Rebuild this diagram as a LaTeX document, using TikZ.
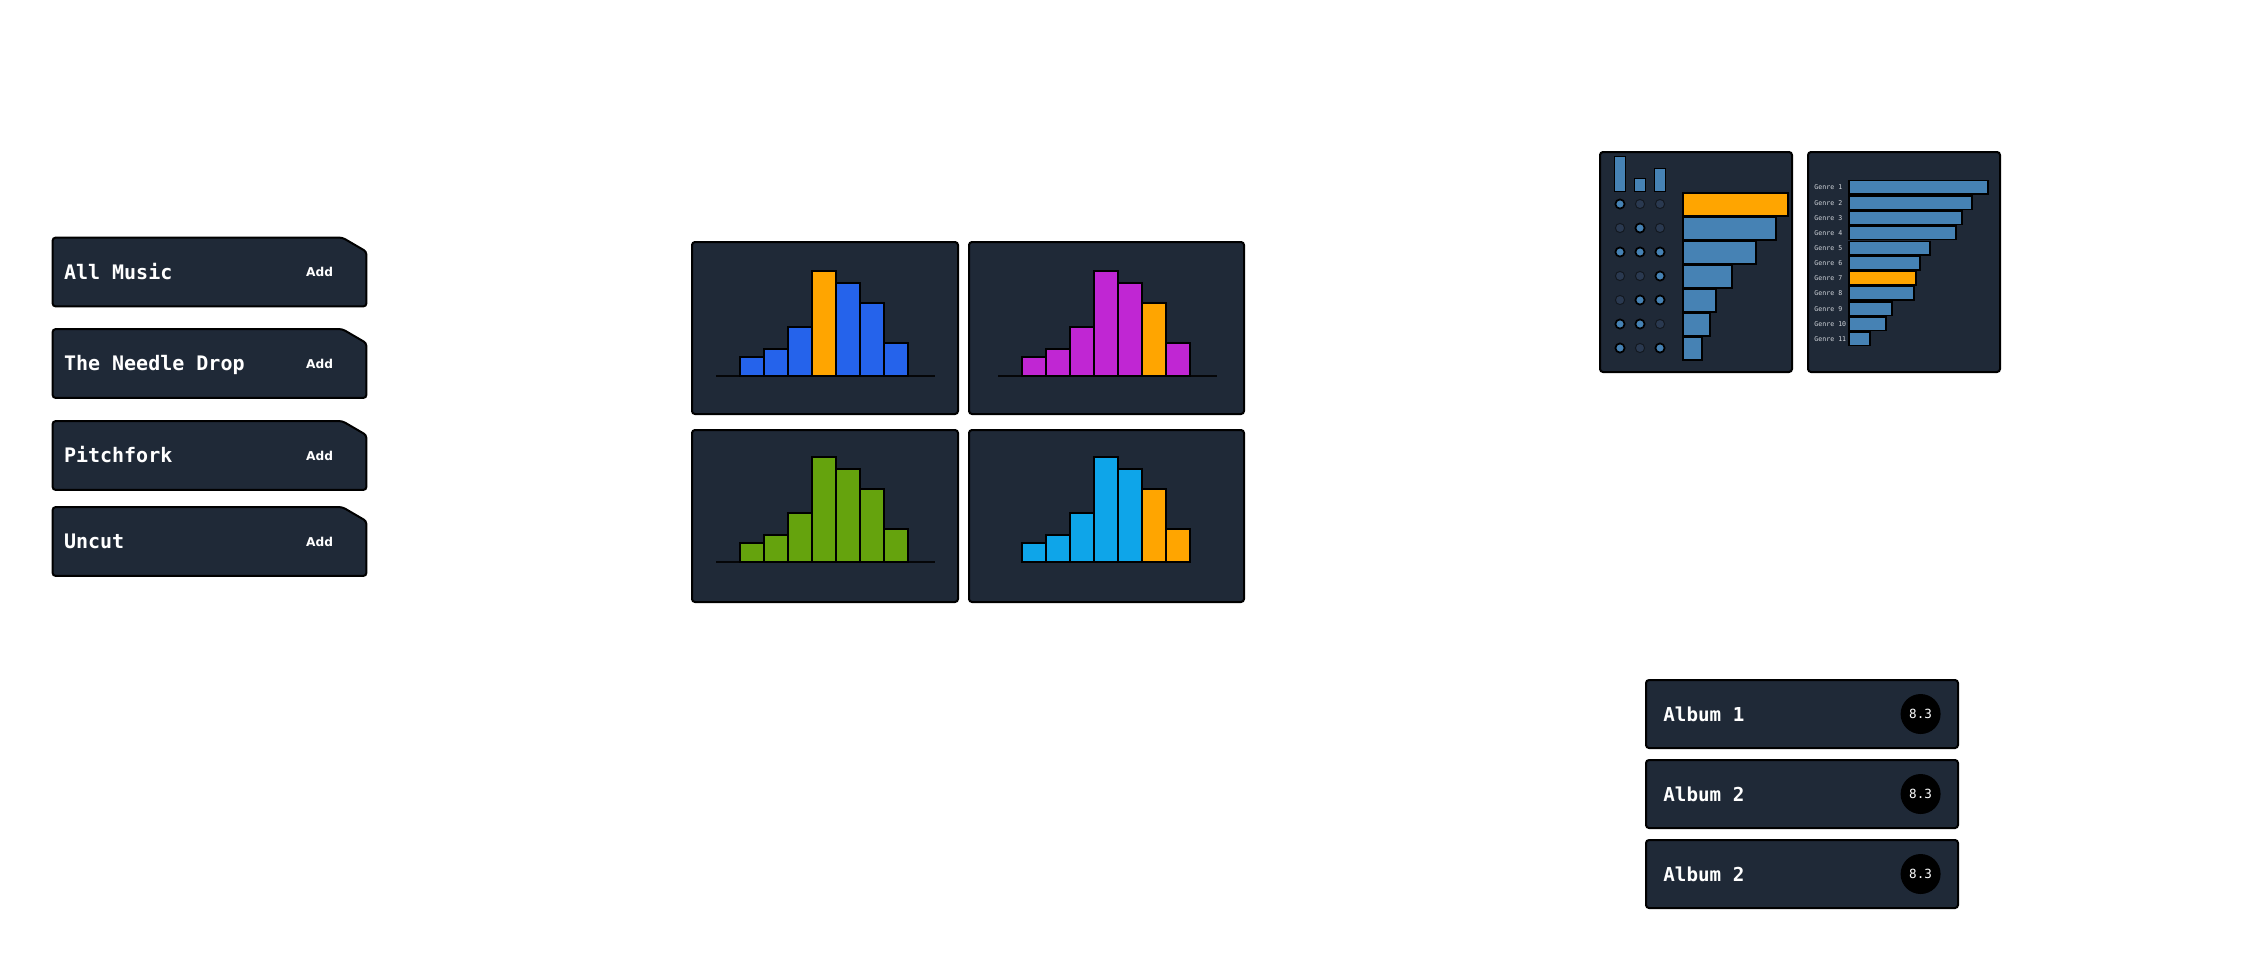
\documentclass[tikz,border=0pt]{standalone}
\usepackage{fontspec}
\setmonofont{DejaVu Sans Mono}
\setsansfont{DejaVu Sans}
\usepackage{tikz}
\usetikzlibrary{positioning}
\definecolor{panel}{HTML}{1F2937}
\definecolor{hblue}{HTML}{2563EB}
\definecolor{hpink}{HTML}{C026D3}
\definecolor{hlime}{HTML}{65A30D}
\definecolor{hsky}{HTML}{0EA5E9}
\definecolor{pick}{HTML}{FFA500}
\definecolor{steel}{HTML}{4682B4}
\definecolor{dotgray}{HTML}{2A3950}
\definecolor{genregray}{HTML}{D1D5DB}
\tikzstyle{card} = [draw=black, line width=1pt, fill=panel, rounded corners=1.5pt, inner sep=0pt]
\tikzstyle{histbar} = [draw=black, line width=0.75pt]
\tikzstyle{floorline} = [draw=black!85!panel, line width=1pt]

\begin{document}
\begin{tikzpicture}[x=0.5pt, y=-0.5pt,
sourcenode/.style={inner sep=0pt, minimum width=156.5pt, minimum height=34pt},
albumnode/.style={card, minimum width=156pt, minimum height=34pt},
chartnode/.style={card, minimum height=86pt},
scorenode/.style={circle, fill=black, minimum size=20pt, inner sep=0pt, text=white, font=\ttfamily\fontsize{6.3pt}{7pt}\selectfont},
bigtext/.style={inner sep=0pt, text=white, text height=7.3pt, text depth=0pt, font=\ttfamily\bfseries\fontsize{10pt}{12pt}\selectfont},
albumtext/.style={bigtext, text height=7pt, font=\ttfamily\bfseries\fontsize{9.6pt}{11pt}\selectfont},
addtext/.style={inner sep=0pt, text=white, font=\sffamily\bfseries\fontsize{6.1pt}{7pt}\selectfont},
genretext/.style={anchor=west, inner sep=0pt, text=genregray, font=\ttfamily\fontsize{3.3pt}{4pt}\selectfont},
offdot/.style={fill=dotgray, draw=black!40!panel, line width=0.5pt},
ondot/.style={fill=steel, draw=black, line width=0.85pt}
]
\useasboundingbox (0,0) rectangle (2250,966);
% sources
\node[sourcenode] (S1) at (209.5,272) {};
\node[sourcenode] (S2) at (209.5,363.5) {};
\node[sourcenode] (S3) at (209.5,455.5) {};
\node[sourcenode] (S4) at (209.5,541.5) {};
\foreach \s in {S1,S2,S3,S4}
  \draw[card] (\s.south west) -- (\s.north west) -- ([xshift=-12pt]\s.north east)
    -- ([yshift=-7pt]\s.north east) -- (\s.south east) -- cycle;
\node[bigtext, right=5.5pt of S1.west] (S1t) {All Music};
\node[bigtext, right=5.5pt of S2.west] (S2t) {The Needle Drop};
\node[bigtext, right=5.5pt of S3.west] (S3t) {Pitchfork};
\node[bigtext, right=5.5pt of S4.west] (S4t) {Uncut};
\node[addtext, left=16.5pt of S1.east] (S1a) {Add};
\node[addtext, left=16.5pt of S2.east] (S2a) {Add};
\node[addtext, left=16.5pt of S3.east] (S3a) {Add};
\node[addtext, left=16.5pt of S4.east] (S4a) {Add};

% histograms
\node[chartnode, minimum width=133pt] (H1) at (825,328) {};
\node[chartnode, minimum width=137.5pt] (H2) at (1106.5,328) {};
\node[chartnode, minimum width=133pt] (H3) at (825,516) {};
\node[chartnode, minimum width=137.5pt] (H4) at (1106.5,516) {};
\draw[floorline] (716,376) -- (935,376);
\draw[floorline] (998,376) -- (1217,376);
\draw[floorline] (716,562) -- (935,562);
\foreach \bx/\by/\col/\hi/\hj in {716/376/hblue/4/0, 998/376/hpink/6/0, 716/562/hlime/0/0, 998/562/hsky/6/7}
  \foreach \h [count=\i] in {19,27,49,105,93,73,33} {
    \ifnum\i=\hi \def\fc{pick}\else\ifnum\i=\hj \def\fc{pick}\else\def\fc{\col}\fi\fi
    \draw[histbar, fill=\fc] ({\bx+24*\i},\by) rectangle ++(24,-\h);
  }

% genre panels
\node[card, minimum width=96pt, minimum height=110pt] (P1) at (1696,262) {};
\node[card, minimum width=96pt, minimum height=110pt] (P2) at (1904,262) {};
\foreach \cx/\ch in {1620/35, 1640/13, 1660/23}
  \draw[histbar, fill=steel] ({\cx-5.5},191.5) rectangle ++(11,-\ch);
\foreach \r in {1,...,7} \foreach \cx in {1620,1640,1660}
  \draw[offdot] (\cx,{180+24*\r}) circle (2.3pt);
\foreach \cx/\r in {1620/1, 1640/2, 1620/3, 1640/3, 1660/3, 1660/4, 1640/5, 1660/5, 1620/6, 1640/6, 1620/7, 1660/7}
  \draw[ondot] (\cx,{180+24*\r}) circle (2.3pt);
\foreach \w [count=\i] in {105,93,73,49,33,27,19} {
  \ifnum\i=1 \def\fc{pick}\else\def\fc{steel}\fi
  \draw[histbar, fill=\fc] (1683,{169+24*\i}) rectangle ++(\w,23);
}
\foreach \w [count=\i] in {139,123,113,107,81,71,67,65,43,37,21} {
  \ifnum\i=7 \def\fc{pick}\else\def\fc{steel}\fi
  \draw[histbar, fill=\fc] (1849,{165.5+15.15*\i}) rectangle ++(\w,13.5);
  \node[genretext] (G\i) at (1814,{172.3+15.15*\i}) {Genre \i};
}

% albums
\node[albumnode] (A1) at (1802,714) {};
\node[albumnode] (A2) at (1802,794) {};
\node[albumnode] (A3) at (1802,874) {};
\node[albumtext, right=9pt of A1.west] (A1t) {Album 1};
\node[albumtext, right=9pt of A2.west] (A2t) {Album 2};
\node[albumtext, right=9pt of A3.west] (A3t) {Album 2};
\node[scorenode, left=9pt of A1.east] (A1s) {8.3};
\node[scorenode, left=9pt of A2.east] (A2s) {8.3};
\node[scorenode, left=9pt of A3.east] (A3s) {8.3};
\end{tikzpicture}
\end{document}
